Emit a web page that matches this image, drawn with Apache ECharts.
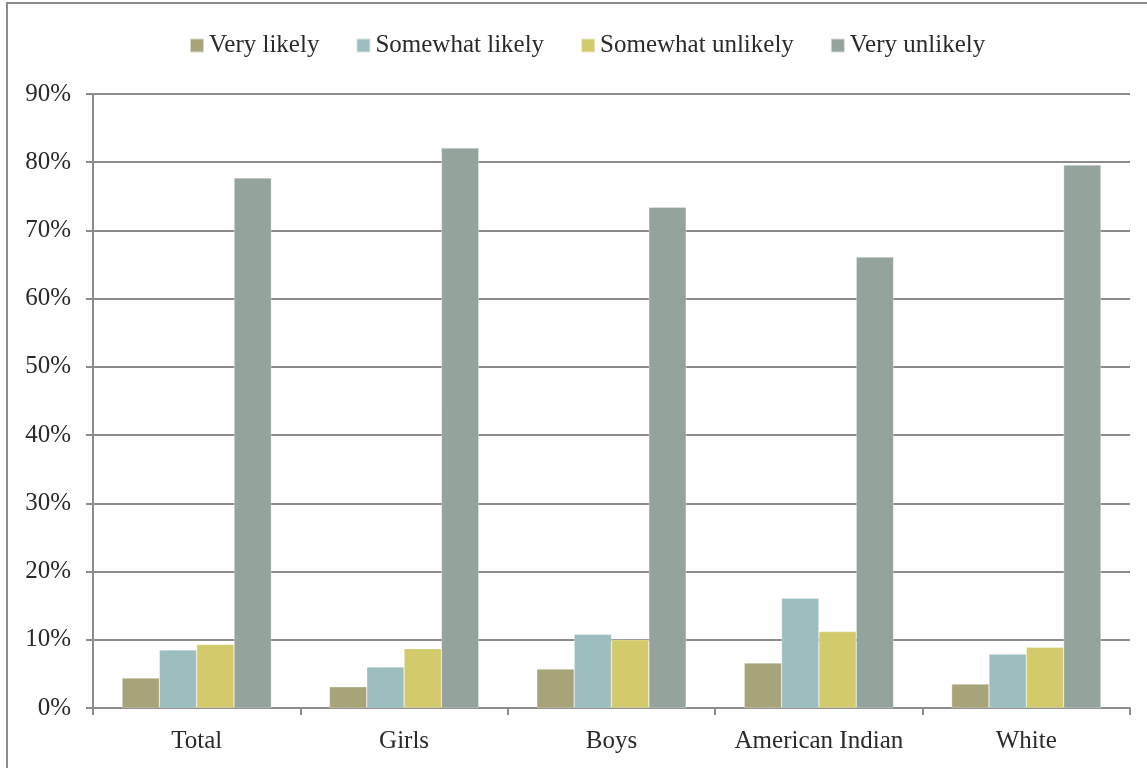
<!DOCTYPE html>
<html>
<head>
<meta charset="utf-8">
<script src="https://cdn.jsdelivr.net/npm/echarts@6/dist/echarts.min.js"></script>
<style>
  html, body { margin: 0; padding: 0; background: #fff; }
  #frame { position: absolute; left: 6px; top: 2px; width: 1150px; height: 780px; border: 2px solid #8c8c8c; box-sizing: border-box; }
  #chart { position: absolute; left: 0; top: 0; width: 1147px; height: 768px; }
</style>
</head>
<body>
<div id="frame"></div>
<div id="chart"></div>
<script>
const categories = ['Total', 'Girls', 'Boys', 'American Indian', 'White'];
const seriesNames = ['Very likely', 'Somewhat likely', 'Somewhat unlikely', 'Very unlikely'];
const veryLikely = [4.4, 3.1, 5.7, 6.6, 3.5];
const somewhatLikely = [8.5, 6.0, 10.8, 16.1, 7.9];
const somewhatUnlikely = [9.3, 8.7, 10.0, 11.2, 8.9];
const veryUnlikely = [77.7, 82.1, 73.4, 66.1, 79.6];
const colors = ['#A8A47A', '#9DBEBE', '#D2CA6B', '#94A39B'];

const font = '"Liberation Serif", "DejaVu Serif", serif';
const values = [veryLikely, somewhatLikely, somewhatUnlikely, veryUnlikely];

const chart = echarts.init(document.getElementById('chart'), null, { renderer: 'canvas' });
chart.setOption({
  animation: false,
  backgroundColor: 'transparent',
  color: colors,
  textStyle: { fontFamily: font },
  legend: {
    top: 28,
    left: 184,
    itemWidth: 14,
    itemHeight: 14,
    itemGap: 36,
    icon: 'rect',
    textStyle: { fontFamily: font, fontSize: 25, color: '#2a2a2a' },
    data: seriesNames
  },
  grid: { left: 93, right: 17, top: 94, bottom: 60, containLabel: false },
  xAxis: {
    type: 'category',
    data: categories,
    axisLine: { lineStyle: { color: '#8c8c8c', width: 2 } },
    axisTick: { show: true, interval: 0, length: 7, lineStyle: { color: '#8c8c8c', width: 2 } },
    axisLabel: { interval: 0, fontFamily: font, fontSize: 25, color: '#2a2a2a', margin: 21 }
  },
  yAxis: {
    type: 'value',
    min: 0,
    max: 90,
    interval: 10,
    axisLine: { show: true, lineStyle: { color: '#8c8c8c', width: 2 } },
    axisTick: { show: true, length: 7, lineStyle: { color: '#8c8c8c', width: 2 } },
    splitLine: { show: true, lineStyle: { color: '#8c8c8c', width: 2 } },
    axisLabel: { fontFamily: font, fontSize: 25, color: '#2a2a2a', margin: 22, formatter: '{value}%' }
  },
  series: seriesNames.map((n, i) => ({
    name: n,
    type: 'bar',
    data: values[i],
    barGap: '0%',
    barCategoryGap: '28%',
    itemStyle: { color: colors[i], borderColor: 'rgba(255,255,255,0.6)', borderWidth: 0.5 }
  }))
});
</script>
</body>
</html>
